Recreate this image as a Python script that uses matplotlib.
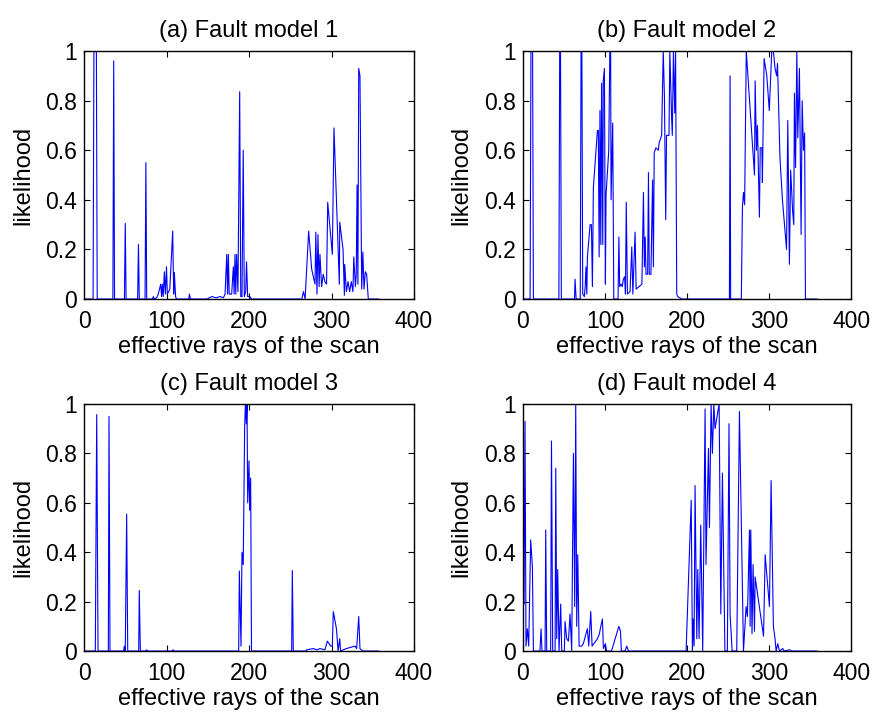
import matplotlib
matplotlib.use("Agg")
import matplotlib.pyplot as plt

plt.rcParams['font.family'] = ['Liberation Sans', 'DejaVu Sans']

# likelihood per effective ray
a_x = [0, 11, 12, 15, 16, 35, 36, 37, 49, 50, 51, 65, 66, 67, 74, 75, 76,
       83, 84, 85, 88, 90, 93, 94, 95, 96, 97.4, 98.6, 100, 101, 104, 107.5,
       108.7, 109.5, 111, 112, 127, 127.7, 129, 149, 155, 160, 165, 169,
       171, 173, 174, 175, 176, 179, 181, 182, 183, 184, 185, 186.6, 188.7,
       190, 191.5, 193, 194.3, 196, 197, 198.4, 201, 203, 264, 266, 268,
       272.3, 276, 280, 281, 282.4, 283.6, 285, 286, 288, 290, 292, 294,
       295.4, 301, 303, 309.5, 310, 314, 315.6, 316, 318, 320, 322, 324,
       326, 327, 329, 330, 331, 332, 333, 334.5, 336.6, 338, 339.4, 341,
       342.6, 344.6, 357]
a_y = [0, 0, 1.0, 1.0, 0, 0, 0.96, 0, 0, 0.305, 0, 0, 0.22, 0, 0, 0.55, 0,
       0, 0.01, 0, 0.005, 0.02, 0.06, 0.01, 0.06, 0.01, 0.11, 0.02, 0.13,
       0.02, 0.04, 0.274, 0.02, 0.107, 0.01, 0, 0, 0.02, 0, 0, 0.01, 0.005,
       0.01, 0.005, 0.02, 0.18, 0.02, 0.18, 0.02, 0.02, 0.13, 0.02, 0.18,
       0.02, 0.18, 0.03, 0.836, 0.01, 0.01, 0.6, 0.01, 0.03, 0.15, 0.01,
       0.01, 0, 0, 0.03, 0, 0.274, 0.12, 0.06, 0.27, 0.02, 0.26, 0.05, 0.18,
       0.05, 0.1, 0.07, 0.06, 0.39, 0.18, 0.69, 0.06, 0.31, 0.2, 0.015,
       0.14, 0.03, 0.07, 0.03, 0.07, 0.03, 0.17, 0.05, 0.1, 0.46, 0.06,
       0.93, 0.9, 0.04, 0.19, 0.04, 0.11, 0.1, 0, 0]

b_x = [0, 9, 10, 12, 13, 44, 45, 46, 47, 63, 63.7, 65, 70, 71, 72, 73, 75,
       76, 77, 78, 78.7, 82, 83.6, 84.8, 86, 90.9, 92, 93, 94, 95, 96, 97.4,
       98, 99.4, 100.6, 101.4, 104.7, 106, 107, 107.5, 109.5, 110.8, 116,
       117, 118, 119.7, 121, 122.5, 124, 125, 126, 127.4, 130.6, 132.7, 134,
       136.7, 138, 145, 146.9, 148, 149, 150, 152, 153, 154, 156, 158, 159,
       160, 162, 165, 166, 169, 171, 172.4, 174, 175, 178, 179, 181, 182,
       183.4, 185, 186, 187.4, 188.6, 193.5, 251.5, 252.3, 253, 266, 267.3,
       268.6, 270, 272, 282, 282.8, 284.4, 285.6, 288, 289, 291, 291.6,
       293.7, 297, 300, 303, 305, 307, 309, 310, 313, 316, 321, 322.5, 324.5,
       326, 328.5, 329.8, 330.6, 332, 333.5, 334.7, 336.7, 338.7, 340, 341.6,
       343, 344, 358]
b_y = [0, 0, 1.0, 1.0, 0, 0, 1.0, 1.0, 0, 0, 0.08, 0, 0, 1.0, 1.0, 0.02,
       0.01, 0.05, 0.13, 0.02, 0.17, 0.3, 0.3, 0.05, 0.45, 0.68, 0.68, 0.17,
       0.76, 0.22, 0.87, 0.22, 0.88, 0.93, 0.06, 0.42, 0.6, 1.0, 1.0, 0.4,
       0.71, 0, 0, 0.25, 0.05, 0.06, 0.05, 0.08, 0.09, 0.02, 0.39, 0.02,
       0.03, 0.21, 0.02, 0.27, 0.04, 0.06, 0.43, 0.13, 0.25, 0.1, 0.1, 0.51,
       0.1, 0.1, 0.48, 0.13, 0.59, 0.61, 0.6, 0.63, 0.66, 1.0, 0.82, 0.32,
       0.66, 0.66, 1.0, 0.75, 0.66, 1.0, 0.75, 1.0, 0.02, 0.01, 0, 0, 0.9,
       0, 0, 0.37, 0.43, 0.38, 1.0, 0.5, 0.88, 0.6, 0.7, 0.33, 0.61, 0.61,
       0.47, 0.97, 0.9, 0.76, 1.0, 1.0, 0.93, 0.9, 0.95, 0.57, 0.4, 0.2,
       0.72, 0.14, 0.52, 0.35, 0.3, 0.83, 0.53, 1.0, 0.65, 0.93, 0.26, 0.8,
       0.6, 0.67, 0, 0]

c_x = [0, 13.7, 15.4, 17, 29.5, 30.3, 31.5, 48, 48.9, 50, 51.7, 53, 66.3,
       67, 68.3, 75, 76, 77, 107, 108, 109, 187.5, 188.3, 190.3, 191.5, 193,
       194.7, 195.6, 196.8, 197.6, 198.4, 200, 200.8, 202, 203, 251.7, 252.5,
       253.7, 269, 270, 278, 282, 286, 292, 295, 299, 301, 302.2, 306, 308,
       310, 311, 318, 328.5, 330.5, 333, 334.5, 338, 357]
c_y = [0, 0, 0.957, 0, 0, 0.95, 0, 0, 0.02, 0, 0.554, 0, 0, 0.245, 0, 0,
       0.005, 0, 0, 0.005, 0, 0, 0.324, 0.02, 0.4, 0.35, 0.9, 1.0, 0.92, 1.0,
       0.6, 0.77, 0.57, 0.7, 0, 0, 0.326, 0, 0, 0.005, 0.01, 0.005, 0.01,
       0.005, 0.04, 0.02, 0.02, 0.16, 0.09, 0, 0.05, 0, 0.01, 0.02, 0.01,
       0.14, 0.01, 0, 0]

d_x = [0, 1.6, 2.8, 4, 5.7, 7.3, 9.7, 11.8, 13, 21, 22.3, 23.5, 27.2, 28,
       29.2, 34, 35, 36.5, 39.4, 40.2, 41.4, 42.6, 44.2, 46.2, 47.5, 50.7,
       51.5, 53.5, 55.6, 57.6, 59.6, 61.7, 63.3, 64.5, 65.7, 67, 68.6, 71.8,
       73.8, 77, 78.7, 80.3, 82.8, 84.4, 91, 93.3, 95, 97, 98.2, 100.6, 102,
       108, 117, 119, 120, 124.5, 126.6, 128.6, 198.8, 205, 206.5, 207.3,
       208.5, 209.7, 211.8, 213, 214.6, 216.6, 219, 221.9, 223, 226, 227.2,
       229.2, 230.8, 232.5, 234, 239, 241, 243, 246, 249, 251, 252.3, 254.8,
       260.4, 263.7, 268.6, 271.8, 273.4, 275.9, 276.7, 277.5, 279, 280.3,
       282, 282.8, 293, 295, 300.2, 302.2, 305, 307, 308.3, 310.3, 312.4,
       316.4, 318, 325, 327, 357.8]
d_y = [0.21, 0.19, 0.93, 0.02, 0.09, 0.02, 0.45, 0.34, 0, 0, 0.09, 0, 0,
       0.49, 0, 0, 0.85, 0, 0, 0.74, 0.05, 0.33, 0, 0.19, 0, 0, 0.12, 0.05,
       0.04, 0.15, 0, 0.8, 0.18, 1.0, 0.1, 0.39, 0.02, 0.02, 0.03, 0.07,
       0.09, 0.02, 0.16, 0.02, 0.05, 0.07, 0.1, 0.13, 0.01, 0.03, 0, 0, 0.1,
       0.08, 0, 0, 0.02, 0, 0, 0.61, 0, 0.13, 0.02, 0.67, 0.05, 0.33, 0.05,
       0.51, 0, 0.98, 0.35, 0.82, 0.5, 1.0, 0.8, 1.0, 0.9, 1.0, 0.15, 0.72,
       0, 0, 0.92, 0.15, 0, 0, 0.97, 0, 0.18, 0.14, 0.49, 0.1, 0.49, 0.07,
       0.35, 0.08, 0.3, 0.06, 0.39, 0.18, 0.69, 0.1, 0.05, 0, 0.03, 0, 0.01,
       0, 0.005, 0, 0]

titles = ["(a) Fault model 1", "(b) Fault model 2",
          "(c) Fault model 3", "(d) Fault model 4"]
series = [(a_x, a_y), (b_x, b_y), (c_x, c_y), (d_x, d_y)]
x_ticks = [0, 100, 200, 300, 400]
y_ticks = [0, 0.2, 0.4, 0.6, 0.8, 1]
y_tick_labels = ["0", "0.2", "0.4", "0.6", "0.8", "1"]

fig = plt.figure(figsize=(8.76, 7.13), dpi=100)
positions = [[0.0959, 0.5806, 0.3767, 0.3478],
             [0.5967, 0.5806, 0.3753, 0.3478],
             [0.0959, 0.0869, 0.3767, 0.3465],
             [0.5967, 0.0869, 0.3753, 0.3465]]

for pos, (xs, ys), title in zip(positions, series, titles):
    ax = fig.add_axes(pos)
    ax.plot(xs, ys, color="#0000ff", linewidth=0.8)
    ax.set_xlim(0, 400)
    ax.set_ylim(0, 1)
    ax.set_xticks(x_ticks)
    ax.set_yticks(y_ticks)
    ax.set_yticklabels(y_tick_labels)
    ax.tick_params(direction="in", top=True, right=True, length=4,
                   labelsize=16.5, pad=5)
    ax.tick_params(axis="x", pad=8)
    for sp in ax.spines.values():
        sp.set_linewidth(1.0)
    ax.set_title(title, fontsize=17, pad=10)
    ax.set_xlabel("effective rays of the scan", fontsize=17, labelpad=2)
    ax.set_ylabel("likelihood", fontsize=17, labelpad=8)

plt.savefig("out.png", dpi=100)
